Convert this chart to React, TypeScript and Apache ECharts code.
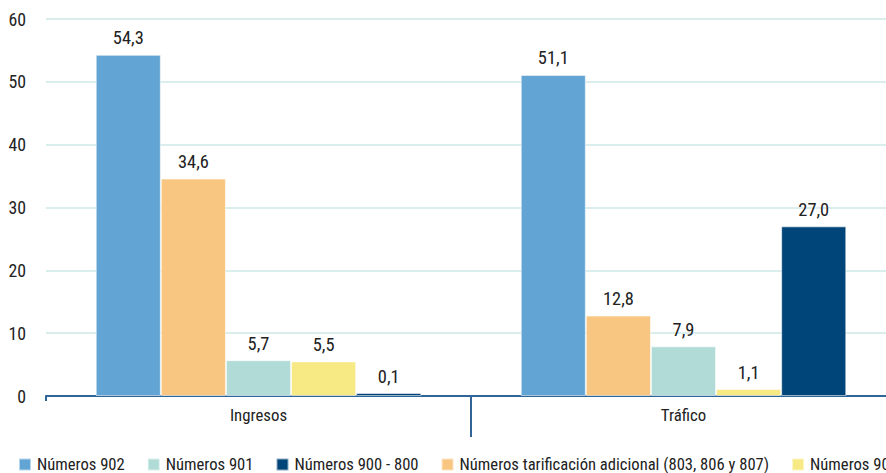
import React, { useEffect, useRef } from "react";
import * as echarts from "echarts";

const categories = ["Ingresos", "Tráfico"];
const seriesNames = [
  "Números 902",
  "Números tarificación adicional (803, 806 y 807)",
  "Números 901",
  "Números 905",
  "Números 900 - 800",
];
const values902 = [54.3, 51.1];
const valuesTarif = [34.6, 12.8];
const values901 = [5.7, 7.9];
const values905 = [5.5, 1.1];
const values900 = [0.1, 27.0];
const legendOrder = [
  "Números 902",
  "Números 901",
  "Números 900 - 800",
  "Números tarificación adicional (803, 806 y 807)",
  "Números 905",
];
const colors = ["#62a5d5", "#f9c682", "#b0dbd6", "#f7e983", "#004579"];
const allValues = [values902, valuesTarif, values901, values905, values900];

const CANDIDATES = [
  "Liberation Sans Narrow",
  "Noto Sans Condensed",
  "Roboto Condensed",
  "Open Sans Condensed",
  "DejaVu Sans Condensed",
];

function pickFont(): { family: string; measure: (t: string, size: number) => number } {
  const c = document.createElement("canvas");
  const ctx = c.getContext("2d")!;
  const probe = "Números tarificación adicional 0123456789";
  let family = "'DejaVu Sans Condensed', sans-serif";
  for (const f of CANDIDATES) {
    ctx.font = "40px monospace";
    const a = ctx.measureText(probe).width;
    ctx.font = `40px '${f}', monospace`;
    const b = ctx.measureText(probe).width;
    if (Math.abs(a - b) > 0.5) {
      family = `'${f}', 'DejaVu Sans Condensed', sans-serif`;
      break;
    }
  }
  const measure = (t: string, size: number) => {
    ctx.font = `${size}px ${family}`;
    return ctx.measureText(t).width;
  };
  return { family, measure };
}

export default function App() {
  const ref = useRef<HTMLDivElement>(null);
  useEffect(() => {
    if (!ref.current) return;
    const { family: FONT, measure } = pickFont();
    const fit = (text: string, target: number, k = 1) =>
      Math.round(((17 * target) / measure(text, 17)) * k * 10) / 10;
    const legendTexts = legendOrder.slice(0, 4);
    const legendTotal = legendTexts.reduce((s, t) => s + measure(t, 17), 0);
    const legendSize = Math.round(((17 * 611) / legendTotal) * 10) / 10;
    const catSize = fit("Ingresos", 54, 1.06);
    const valSize = fit("54,3", 28, 1.1);
    const ySize = fit("60", 16, 1.1);

    const chart = echarts.init(ref.current, undefined, { renderer: "svg" });
    chart.setOption({
      animation: false,
      backgroundColor: "#ffffff",
      textStyle: { fontFamily: FONT },
      grid: [
        { left: 46, top: 19, right: 104, bottom: 77, containLabel: false },
        { left: 46, top: 19, right: 104, bottom: 77, containLabel: false },
      ],
      legend: {
        data: legendOrder,
        left: 18,
        top: 456,
        padding: 0,
        itemWidth: 12,
        itemHeight: 12,
        itemGap: 22,
        icon: "rect",
        textStyle: {
          fontFamily: FONT,
          fontSize: legendSize,
          lineHeight: legendSize,
          color: "#222",
          padding: [0, 0, 0, 1],
        },
      },
      xAxis: [
        {
          type: "category",
          gridIndex: 0,
          data: categories,
          axisLine: { show: true, lineStyle: { color: "#2f6597", width: 2 } },
          axisTick: { show: true, length: 5, lineStyle: { color: "#2f6597", width: 2 } },
          axisLabel: { fontFamily: FONT, fontSize: catSize, color: "#222", margin: 10 },
        },
        {
          type: "value",
          gridIndex: 1,
          min: 0,
          max: categories.length,
          interval: 1,
          position: "bottom",
          axisLine: { show: false },
          axisLabel: { show: false },
          splitLine: { show: false },
          axisTick: {
            show: true,
            length: 41,
            customValues: categories.slice(1).map((_, i) => i + 1),
            lineStyle: { color: "#2f6597", width: 2 },
          },
        },
      ],
      yAxis: [
        {
          type: "value",
          gridIndex: 0,
          min: 0,
          max: 60,
          interval: 10,
          axisLine: { show: false },
          axisTick: { show: false },
          splitLine: { lineStyle: { color: "#cfe8e8", width: 1.5 } },
          axisLabel: { fontFamily: FONT, fontSize: ySize, color: "#222", margin: 20 },
        },
        {
          type: "value",
          gridIndex: 1,
          min: 0,
          max: 60,
          interval: 10,
          show: false,
        },
      ],
      series: seriesNames.map((name, i) => ({
        name,
        type: "bar",
        xAxisIndex: 0,
        yAxisIndex: 0,
        data: allValues[i],
        barGap: "0%",
        barCategoryGap: "23.4%",
        barMinHeight: 3,
        itemStyle: { color: colors[i], borderColor: "rgba(255,255,255,0.55)", borderWidth: 1 },
        label: {
          show: true,
          position: "top",
          distance: 8,
          fontFamily: FONT,
          fontSize: valSize,
          color: "#222",
          formatter: (p: any) => p.value.toFixed(1).replace(".", ","),
        },
      })),
    });
    return () => chart.dispose();
  }, []);
  return (
    <div style={{ position: "fixed", left: 0, top: 0, width: 886, height: 473, overflow: "hidden", background: "#fff" }}>
      <div ref={ref} style={{ width: 1000, height: 473 }} />
    </div>
  );
}
